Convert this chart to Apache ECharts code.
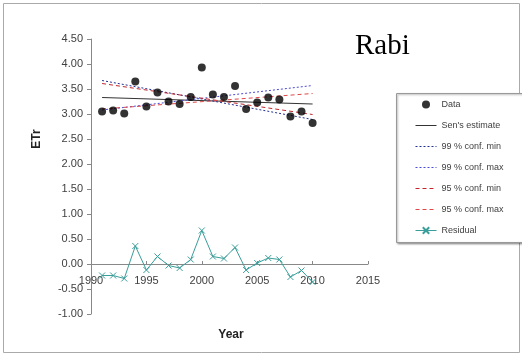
<!DOCTYPE html>
<html>
<head>
<meta charset="utf-8">
<script src="https://cdn.jsdelivr.net/npm/echarts@6/dist/echarts.min.js"></script>
<style>
html,body{margin:0;padding:0;background:#fff;}
#chart{width:522px;height:356px;}
</style>
</head>
<body>
<div id="chart"></div>
<script>
// ---- data ----
const years = [1991,1992,1993,1994,1995,1996,1997,1998,1999,2000,2001,2002,2003,2004,2005,2006,2007,2008,2009,2010];
const etr = [3.05,3.07,3.01,3.65,3.15,3.43,3.25,3.20,3.34,3.93,3.39,3.34,3.56,3.10,3.23,3.33,3.29,2.95,3.05,2.82];
const residual = [-0.23,-0.23,-0.29,0.36,-0.12,0.15,-0.03,-0.08,0.09,0.67,0.15,0.11,0.33,-0.12,0.02,0.12,0.09,-0.26,-0.13,-0.36];
const lineYears = [1991, 2010];
const sensEstimate = [3.33, 3.20];
const conf99Min = [3.67, 2.89];
const conf99Max = [3.08, 3.57];
const conf95Min = [3.61, 2.99];
const conf95Max = [3.10, 3.41];
const xTicks = [1990, 1995, 2000, 2005, 2010, 2015];
const yTicks = [-1.0,-0.5,0,0.5,1.0,1.5,2.0,2.5,3.0,3.5,4.0,4.5];
const seriesNames = ['Data',"Sen's estimate",'99 % conf. min','99 % conf. max','95 % conf. min','95 % conf. max','Residual'];

const pair = (xs, ys) => xs.map((x, i) => [x, ys[i]]);
const FONT = '"Liberation Sans", Arial, sans-serif';
const chart = echarts.init(document.getElementById('chart'), null, {renderer: 'canvas'});

// layout (not data)
const GRID = {left: 91, top: 39, right: 154, bottom: 42};
const plotH = 356 - GRID.top - GRID.bottom;
const yMin = yTicks[0], yMax = yTicks[yTicks.length - 1];
// move the x axis (line + labels) up to the y = 0 level
const xAxisOffset = -plotH * (0 - yMin) / (yMax - yMin);

// styles (not data)
const lineStyles = {
  "Sen's estimate": {color: '#333333', width: 1, type: 'solid'},
  '99 % conf. min': {color: '#23308f', width: 1, type: [2, 2]},
  '99 % conf. max': {color: '#4a4ad6', width: 1, type: [2, 2]},
  '95 % conf. min': {color: '#c0262b', width: 1, type: [4, 3]},
  '95 % conf. max': {color: '#e04848', width: 1, type: [4, 3]},
  'Residual': {color: '#3a9e9a', width: 1, type: 'solid'}
};

const lineSeries = (name, ys) => ({
  name, type: 'line', data: pair(lineYears, ys), symbol: 'none',
  lineStyle: lineStyles[name], itemStyle: {color: lineStyles[name].color}, z: 3
});

const legendData = seriesNames.map(n => {
  if (n === 'Data') return {name: n, icon: 'circle'};
  if (n === 'Residual') return {name: n};
  return {name: n, itemStyle: {opacity: 0}};
});

chart.setOption({
  animation: false,
  backgroundColor: '#fff',
  grid: GRID,
  xAxis: {
    type: 'value', min: xTicks[0], max: xTicks[xTicks.length - 1], interval: 5,
    offset: xAxisOffset,
    axisLine: {onZero: false, lineStyle: {color: '#888', width: 1}},
    axisTick: {inside: true, length: 3, lineStyle: {color: '#888'}},
    axisLabel: {margin: 11, fontSize: 11, color: '#404040', fontFamily: FONT,
      formatter: v => String(v)},
    splitLine: {show: false}
  },
  yAxis: {
    type: 'value', min: yMin, max: yMax, interval: 0.5,
    axisLine: {show: true, onZero: false, lineStyle: {color: '#888', width: 1}},
    axisTick: {show: true, length: 4, lineStyle: {color: '#888'}},
    axisLabel: {margin: 8, fontSize: 11, color: '#404040', fontFamily: FONT,
      formatter: v => v.toFixed(2)},
    splitLine: {show: false}
  },
  legend: {
    orient: 'vertical', left: 410, top: 94,
    itemWidth: 21, itemHeight: 8, itemGap: 10,
    lineStyle: {width: 1},
    textStyle: {fontSize: 9, color: '#404040', fontFamily: FONT, lineHeight: 11},
    data: legendData,
    z: 10
  },
  graphic: [
    {type: 'rect', z: -10, silent: true,
     shape: {x: 3.5, y: 3.5, width: 516, height: 349},
     style: {fill: '#fff', stroke: '#aaa', lineWidth: 1}},
    {type: 'rect', z: 5, silent: true,
     shape: {x: 396.5, y: 93.5, width: 140, height: 149},
     style: {fill: '#fff', stroke: '#999', lineWidth: 1,
       shadowColor: 'rgba(0,0,0,0.35)', shadowBlur: 2, shadowOffsetX: 1, shadowOffsetY: 1}},
    {type: 'text', left: 355, top: 32, z: 5,
     style: {text: 'Rabi', font: '29px "Liberation Serif", "Times New Roman", serif', fill: '#000'}},
    {type: 'text', x: 231, y: 335, z: 5,
     style: {text: 'Year', font: 'bold 12px ' + FONT, fill: '#222', align: 'center', verticalAlign: 'middle'}},
    {type: 'text', x: 37, y: 139, rotation: Math.PI / 2, z: 5,
     style: {text: 'ETr', font: 'bold 12px ' + FONT, fill: '#222', align: 'center', verticalAlign: 'middle'}}
  ],
  series: [
    {name: 'Data', type: 'scatter', data: pair(years, etr), symbol: 'circle', symbolSize: 8,
     itemStyle: {color: '#000'}, z: 5},
    lineSeries("Sen's estimate", sensEstimate),
    lineSeries('99 % conf. min', conf99Min),
    lineSeries('99 % conf. max', conf99Max),
    lineSeries('95 % conf. min', conf95Min),
    lineSeries('95 % conf. max', conf95Max),
    {name: 'Residual', type: 'line', data: pair(years, residual),
     symbol: 'path://M0,0L10,10M10,0L0,10', symbolSize: 6, showSymbol: true,
     lineStyle: lineStyles['Residual'],
     itemStyle: {color: 'rgba(0,0,0,0)', borderColor: lineStyles['Residual'].color, borderWidth: 1},
     z: 4}
  ]
});
</script>
</body>
</html>
